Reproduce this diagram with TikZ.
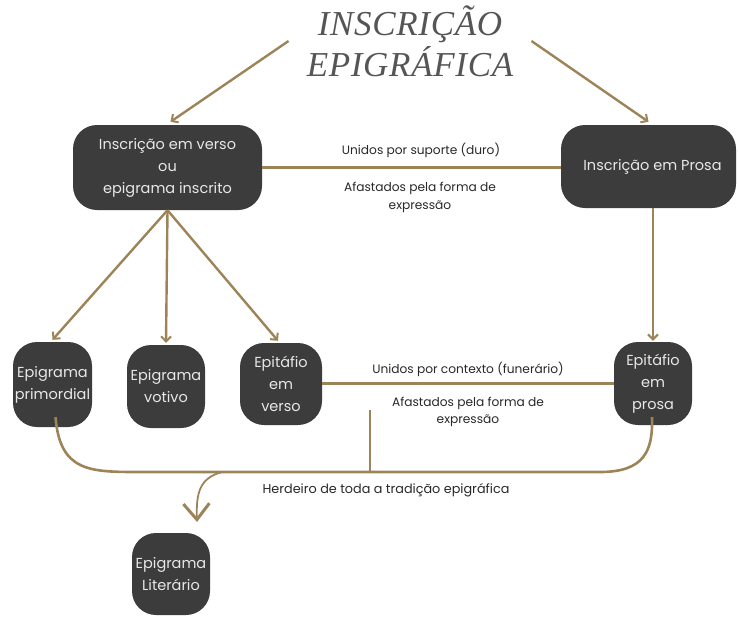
\documentclass[tikz,border=0pt]{standalone}
\usepackage{fontspec}
\setmainfont{Poppins}
\newfontfamily\titlefont[LetterSpace=2]{Liberation Serif}
\usetikzlibrary{arrows.meta}
\definecolor{gold}{RGB}{156,132,88}
\definecolor{boxc}{RGB}{60,60,60}
\definecolor{boxtxt}{RGB}{232,232,232}
\definecolor{titlec}{RGB}{85,85,85}
\definecolor{lblc}{RGB}{40,40,40}
\begin{document}
\begin{tikzpicture}[x=1pt,y=-1pt,
  box/.style={fill=boxc, text=boxtxt, align=center, rounded corners=24pt, inner sep=0pt,
    font=\fontsize{14.5}{22}\selectfont},
  arr/.style={draw=gold, line width=2.4pt, -{Straight Barb[length=5pt,width=10pt,line width=2pt]}},
  link/.style={draw=gold, line width=2.6pt},
  lbl/.style={font=\fontsize{12.2}{18}\selectfont, text=lblc, align=center, inner sep=0pt}]
\useasboundingbox (0,0) rectangle (738,616);

% title
\node[font=\titlefont\itshape\fontsize{35}{41}\selectfont, text=titlec, align=center, inner xsep=18pt, inner ysep=0pt] (title) at (410,41) {INSCRIÇÃO\\EPIGRÁFICA};

% boxes
\node[box, minimum width=189pt, minimum height=85pt] (lv) at (167.5,167.5) {Inscrição em verso\\ou\\epigrama inscrito};
\node[box, minimum width=175pt, minimum height=83pt] (pr) at (648.5,166.5) {\hspace*{8pt}Inscrição em Prosa};
\node[box, minimum width=79pt, minimum height=85pt] (ep) at (52.5,384.5) {Epigrama\\primordial};
\node[box, minimum width=78pt, minimum height=83pt] (ev) at (166,386.5) {Epigrama\\votivo};
\node[box, minimum width=82pt, minimum height=82pt] (evv) at (281,384) {Epitáfio\\em\\verso};
\node[box, minimum width=78pt, minimum height=83pt] (epp) at (653,383.5) {Epitáfio\\em\\prosa};
\node[box, minimum width=78pt, minimum height=82pt] (el) at (171,574) {Epigrama\\Literário};

% arrows from title
\draw[arr] (title.west) -- ([xshift=3pt,yshift=3pt]lv.north);
\draw[arr] (title.east) -- ([yshift=3pt]pr.north);

% top link
\draw[link] (lv.east) -- (lv.east -| pr.west);
\node[lbl] (l1) at (421,150) {Unidos por suporte (duro)};
\node[lbl] (l2) at (420,197) {Afastados pela forma de\\expressão};

% arrows down
\draw[arr] (lv.south) -- ([yshift=2pt]ep.north);
\draw[arr] (lv.south) -- ([yshift=2pt]ev.north);
\draw[arr] (lv.south) -- ([xshift=-3pt,yshift=2pt]evv.north);
\draw[arr] (epp.north |- pr.south) -- ([yshift=1pt]epp.north);

% bottom link
\draw[link] (evv.east |- epp.west) -- (epp.west);
\node[lbl] (l3) at (468,369) {Unidos por contexto (funerário)};
\node[lbl, font=\fontsize{12.2}{17}\selectfont] (l4) at (468,412) {Afastados pela forma de\\expressão};

% bracket
\coordinate (bl) at ([xshift=3pt,yshift=10pt]ep.south);
\coordinate (br) at ([xshift=-1pt,yshift=8pt]epp.south);
\coordinate (vt) at (370,410);
\coordinate (vb) at (370,472);
\coordinate (bj) at (222,472);
\coordinate (tip) at (197,522);
\draw[link] (bl) .. controls (60,472) and (90,472) .. (140,472) -- (600,472) .. controls (645,472) and (653,450) .. (br);
\draw[link] (vt) -- (vb);
\draw[draw=gold, line width=1.8pt, -{Straight Barb[length=16pt,width=26pt,line width=3pt]}] (bj) .. controls (200,478) and (196,492) .. (tip);
\node[lbl, font=\fontsize{12.8}{16}\selectfont] (l5) at (386,490) {Herdeiro de toda a tradição epigráfica};
\end{tikzpicture}
\end{document}
